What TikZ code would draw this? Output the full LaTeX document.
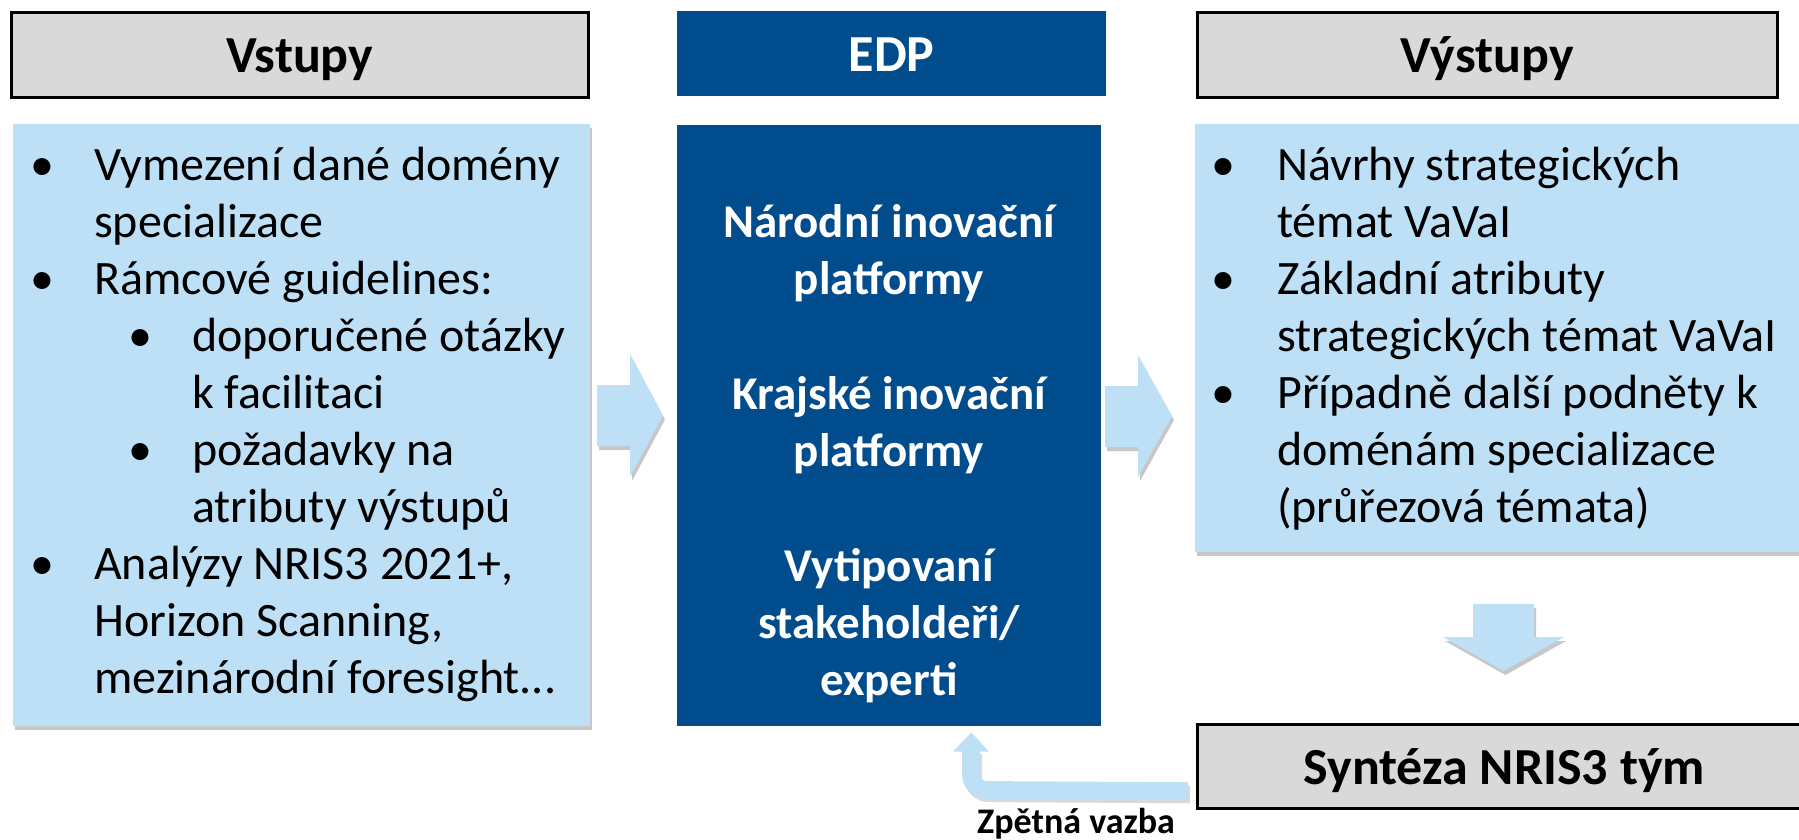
\documentclass[tikz,border=0pt]{standalone}
\usepackage{fontspec}
\setmainfont{Carlito}
\usetikzlibrary{shadows,calc}
\definecolor{hdrgray}{HTML}{D9D9D9}
\definecolor{lblue}{RGB}{189,224,246}
\definecolor{dblue}{HTML}{004C8C}
\begin{document}
\begin{tikzpicture}[x=1pt,y=-1pt,
  hdr/.style={draw=black, line width=2.5pt, fill=hdrgray, inner sep=0, anchor=north west},
  dbox/.style={fill=dblue, inner sep=0, anchor=north west},
  lbox/.style={fill=lblue, inner sep=0, anchor=north west,
     drop shadow={shadow xshift=2pt, shadow yshift=-4pt, opacity=0.22, fill=black}},
  hdrtxt/.style={anchor=base, inner sep=0, font=\fontsize{52}{60}\selectfont\bfseries},
  txt/.style={anchor=base west, inner sep=0, font=\fontsize{48}{57}\selectfont},
  bul/.style={anchor=base, inner sep=0, font=\fontsize{48}{57}\selectfont},
  mid/.style={anchor=base, inner sep=0, text=white, font=\fontsize{47}{57}\selectfont\bfseries},
  blockarrow/.style={fill=lblue, drop shadow={shadow xshift=2pt, shadow yshift=-4pt, opacity=0.22, fill=black}}
]
\useasboundingbox (0,0) rectangle (1799,839);

% headers
\node[hdr, minimum width=577, minimum height=85] (vst) at (10,11) {};
\node[hdrtxt] (vstt) at ($(vst.center)+(0,18)$) {Vstupy};
\node[dbox, minimum width=429, minimum height=85] (edph) at (677,11) {};
\node[hdrtxt, text=white] (edpt) at ($(edph.center)+(0,18)$) {EDP};
\node[hdr, minimum width=580, minimum height=85] (vys) at (1196,11) {};
\node[hdrtxt] (vyst) at ($(vys.center)+(0,18)$) {Výstupy};

% main boxes
\node[lbox, minimum width=577, minimum height=602] (lb) at (13,124) {};
\node[dbox, minimum width=424, minimum height=601] (edp) at (677,125) {};
\node[lbox, minimum width=620, minimum height=428] (rb) at (1195,124) {};
\node[hdr, minimum width=614, minimum height=84] (syn) at (1196,723) {};
\node[hdrtxt] (synt) at ($(syn.center)+(0,18)$) {Syntéza NRIS3 tým};

% left box text
\node[bul] (lb1) at (42,180) {•};
\node[txt] (l0) at (94,180) {Vymezení dané domény};
\node[txt] (l1) at (94,237) {specializace};
\node[bul] (lb2) at (42,294) {•};
\node[txt] (l2) at (94,294) {Rámcové guidelines:};
\node[bul] (lb3) at (140,351) {•};
\node[txt] (l3) at (192,351) {doporučené otázky};
\node[txt] (l4) at (192,408) {k facilitaci};
\node[bul] (lb4) at (140,465) {•};
\node[txt] (l5) at (192,465) {požadavky na};
\node[txt] (l6) at (192,522) {atributy výstupů};
\node[bul] (lb5) at (42,579) {•};
\node[txt] (l7) at (94,579) {Analýzy NRIS3 2021+,};
\node[txt] (l8) at (94,636) {Horizon Scanning,};
\node[txt] (l9) at (94,693) {mezinárodní foresight...};

% middle text
\node[mid] (m0) at (889,237) {Národní inovační};
\node[mid] (m1) at (889,294) {platformy};
\node[mid] (m2) at (889,409) {Krajské inovační};
\node[mid] (m3) at (889,466) {platformy};
\node[mid] (m4) at (889,581) {Vytipovaní};
\node[mid] (m5) at (889,638) {stakeholdeři/};
\node[mid] (m6) at (889,695) {experti};

% right box text
\node[bul] (rb1) at (1223,180) {•};
\node[txt] (r0) at (1277,180) {Návrhy strategických};
\node[txt] (r1) at (1277,237) {témat VaVaI};
\node[bul] (rb2) at (1223,294) {•};
\node[txt] (r2) at (1277,294) {Základní atributy};
\node[txt] (r3) at (1277,351) {strategických témat VaVaI};
\node[bul] (rb3) at (1223,408) {•};
\node[txt] (r4) at (1277,408) {Případně další podněty k};
\node[txt] (r5) at (1277,465) {doménám specializace};
\node[txt] (r6) at (1277,522) {(průřezová témata)};

% block arrows
\path[blockarrow] (597,385) -- (630,385) -- (630,354) -- (663,415.5) -- (630,477) -- (630,446) -- (597,446) -- cycle;
\path[blockarrow] (1105,386) -- (1138,386) -- (1138,355) -- (1172,416) -- (1138,477) -- (1138,447) -- (1105,447) -- cycle;
\path[blockarrow] (1473,604) -- (1534,604) -- (1534,637) -- (1564,637) -- (1503.5,671) -- (1443,637) -- (1473,637) -- cycle;

% feedback arrow
\coordinate (fbs) at ($(syn.west)+(-8,25)$);
\coordinate (fbc) at (971,790);
\coordinate (fbe) at (971,751);
\coordinate (fbt) at ($(edp.south)+(82,6)$);
\draw[black, opacity=0.15, line width=18pt, rounded corners=16pt, transform canvas={xshift=2pt, yshift=-3pt}] (fbs) -- (fbc) -- (fbe);
\draw[lblue, line width=18pt, rounded corners=16pt] (fbs) -- (fbc) -- (fbe);
\fill[lblue] ($(fbe)+(-18,0.5)$) -- ($(fbe)+(18,0.5)$) -- (fbt) -- cycle;
\node[anchor=base, inner sep=0, font=\fontsize{36}{40}\selectfont\bfseries] (fbl) at (1076,833) {Zpětná vazba};
\end{tikzpicture}
\end{document}
